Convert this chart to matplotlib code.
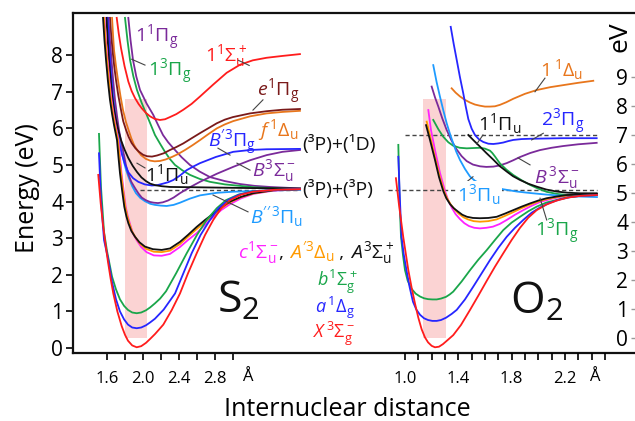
import matplotlib.pyplot as plt
from matplotlib.patches import Rectangle
from matplotlib.offsetbox import TextArea, HPacker, AnnotationBbox

plt.rcParams['font.family'] = ['Open Sans', 'DejaVu Sans']
plt.rcParams['mathtext.fontset'] = 'custom'
plt.rcParams['mathtext.rm'] = 'Open Sans'
plt.rcParams['mathtext.it'] = 'Open Sans:italic'
plt.rcParams['mathtext.bf'] = 'Open Sans:bold'

# colours
RED = '#ff1c1c'
BLUE = '#2626ff'
GREEN = '#1aa64a'
MAGENTA = '#ff22ff'
ORANGE = '#ff9a00'
DORANGE = '#e8761c'
PURPLE = '#7a2a9a'
DARKRED = '#7a1a1a'
LBLUE = '#1e9bff'
BLACK = '#111111'

# ---------------- S2 curves: r (Angstrom), E (eV) ----------------
s2_X_r = [1.503, 1.53, 1.556, 1.585, 1.611, 1.64, 1.670, 1.715, 1.763, 1.80, 1.833, 1.88, 1.93, 1.98, 2.033, 2.08, 2.133,
          2.18, 2.226, 2.32, 2.411, 2.50, 2.597, 2.69, 2.781, 2.87, 2.967, 3.09, 3.222, 3.45, 3.744]
s2_X_E = [4.73, 3.95, 3.36, 2.80, 2.35, 1.90, 1.49, 1.00, 0.60, 0.36, 0.20, 0.07, 0.02, 0.05, 0.14, 0.25, 0.38,
          0.51, 0.64, 1.04, 1.49, 2.04, 2.59, 3.09, 3.50, 3.82, 4.04, 4.19, 4.27, 4.32, 4.34]
s2_a_r = [1.511, 1.533, 1.567, 1.611, 1.656, 1.70, 1.744, 1.79, 1.833, 1.88, 1.93, 1.98, 2.033, 2.08, 2.133, 2.23,
          2.356, 2.45, 2.541, 2.64, 2.744, 2.84, 2.944, 3.07, 3.211, 3.45, 3.744]
s2_a_E = [5.32, 4.04, 2.95, 2.45, 1.80, 1.33, 1.00, 0.78, 0.64, 0.56, 0.54, 0.56, 0.62, 0.70, 0.80, 1.05,
          1.49, 2.05, 2.59, 3.09, 3.50, 3.82, 4.04, 4.19, 4.27, 4.32, 4.34]
s2_b_r = [1.511, 1.533, 1.567, 1.600, 1.656, 1.70, 1.744, 1.79, 1.833, 1.88, 1.93, 1.98, 2.033, 2.08, 2.133, 2.19,
          2.256, 2.37, 2.486, 2.60, 2.708, 2.82, 2.922, 3.06, 3.200, 3.45, 3.744]
s2_b_E = [5.85, 4.40, 3.17, 2.65, 1.95, 1.60, 1.33, 1.15, 1.04, 0.97, 0.95, 0.97, 1.03, 1.11, 1.22, 1.35,
          1.55, 2.05, 2.59, 3.09, 3.50, 3.82, 4.04, 4.19, 4.27, 4.32, 4.34]
s2_A_r = [1.556, 1.572, 1.589, 1.61, 1.633, 1.656, 1.678, 1.711, 1.728, 1.744, 1.768, 1.792, 1.815, 1.837, 1.87, 1.911,
          1.96, 2.022, 2.11, 2.208, 2.30, 2.411, 2.50, 2.597, 2.69, 2.781, 2.87, 2.967, 3.09, 3.226, 3.45, 3.744]
s2_A_E = [9.02, 8.40, 7.87, 7.30, 6.78, 6.40, 6.09, 5.68, 5.20, 4.78, 4.30, 3.86, 3.60, 3.41, 3.20, 3.04,
          2.89, 2.77, 2.70, 2.68, 2.72, 2.90, 3.09, 3.31, 3.50, 3.67, 3.85, 4.00, 4.13, 4.23, 4.31, 4.34]
s2_Ap_r = [1.567, 1.583, 1.600, 1.621, 1.644, 1.667, 1.689, 1.722, 1.739, 1.756, 1.78, 1.803, 1.826, 1.848, 1.88, 1.922,
           1.97, 2.033, 2.12, 2.208, 2.30, 2.411, 2.50, 2.597, 2.69, 2.781, 2.87, 2.967, 3.09, 3.226, 3.45, 3.744]
s2_Ap_E = [9.02, 8.40, 7.87, 7.30, 6.78, 6.40, 6.09, 5.68, 5.20, 4.78, 4.30, 3.86, 3.60, 3.41, 3.18, 3.00,
           2.84, 2.71, 2.63, 2.62, 2.66, 2.84, 3.04, 3.25, 3.45, 3.63, 3.82, 3.98, 4.12, 4.22, 4.31, 4.34]
s2_c_r = [1.572, 1.588, 1.606, 1.627, 1.650, 1.672, 1.694, 1.728, 1.745, 1.761, 1.785, 1.808, 1.831, 1.853, 1.885, 1.928,
          1.98, 2.039, 2.12, 2.208, 2.30, 2.411, 2.50, 2.597, 2.69, 2.781, 2.87, 2.967, 3.09, 3.226, 3.45, 3.744]
s2_c_E = [9.02, 8.40, 7.87, 7.30, 6.78, 6.40, 6.09, 5.68, 5.20, 4.78, 4.30, 3.86, 3.60, 3.41, 3.15, 2.95,
          2.76, 2.62, 2.53, 2.52, 2.57, 2.76, 2.95, 3.14, 3.37, 3.58, 3.77, 3.93, 4.09, 4.21, 4.30, 4.34]
s2_1Pu_r = [1.594, 1.608, 1.622, 1.64, 1.656, 1.678, 1.700, 1.728, 1.756, 1.795, 1.837, 1.885, 1.933, 1.983, 2.033,
            2.08, 2.133, 2.21, 2.300, 2.633, 3.189, 3.744]
s2_1Pu_E = [9.02, 8.40, 7.87, 7.35, 6.91, 6.53, 6.23, 5.93, 5.68, 5.42, 5.19, 4.98, 4.81, 4.66, 4.56,
            4.49, 4.45, 4.42, 4.40, 4.39, 4.37, 4.36]
s2_Bp_r = [1.606, 1.62, 1.633, 1.65, 1.667, 1.686, 1.706, 1.733, 1.763, 1.80, 1.837, 1.89, 1.948, 2.02, 2.097, 2.16,
           2.222, 2.28, 2.337, 2.41, 2.486, 2.56, 2.633, 2.81, 3.003, 3.19, 3.374, 3.744]
s2_Bp_E = [9.02, 8.40, 7.87, 7.30, 6.78, 6.35, 5.96, 5.62, 5.32, 5.02, 4.80, 4.64, 4.54, 4.47, 4.44, 4.45,
           4.49, 4.53, 4.59, 4.71, 4.86, 4.96, 5.05, 5.22, 5.36, 5.41, 5.43, 5.44]
s2_B_r = [1.617, 1.633, 1.650, 1.669, 1.689, 1.711, 1.733, 1.76, 1.789, 1.81, 1.837, 1.87, 1.911, 1.95, 1.986, 2.03,
          2.078, 2.12, 2.167, 2.22, 2.278, 2.34, 2.411, 2.52, 2.633, 2.82, 3.003, 3.19, 3.374, 3.55, 3.744]
s2_B_E = [9.02, 8.40, 7.87, 7.30, 6.78, 6.35, 5.96, 5.60, 5.27, 5.00, 4.75, 4.54, 4.37, 4.22, 4.11, 4.04,
          3.99, 3.97, 3.96, 3.98, 4.03, 4.11, 4.23, 4.39, 4.54, 4.76, 4.95, 5.13, 5.27, 5.36, 5.41]
s2_Bpp_r = [1.600, 1.62, 1.639, 1.658, 1.678, 1.70, 1.722, 1.75, 1.778, 1.81, 1.844, 1.88, 1.922, 1.97, 2.022, 2.08,
            2.133, 2.20, 2.263, 2.34, 2.411, 2.52, 2.633, 2.82, 3.003, 3.37, 3.744]
s2_Bpp_E = [9.02, 8.40, 7.87, 7.30, 6.78, 6.35, 5.96, 5.55, 5.19, 4.88, 4.64, 4.42, 4.23, 4.10, 4.01, 3.94,
            3.91, 3.89, 3.88, 3.91, 3.97, 4.08, 4.17, 4.24, 4.27, 4.30, 4.32]
s2_e_r = [1.633, 1.645, 1.661, 1.68, 1.700, 1.725, 1.756, 1.78, 1.811, 1.84, 1.874, 1.915, 1.956, 2.0, 2.044, 2.10,
          2.156, 2.23, 2.300, 2.37, 2.448, 2.54, 2.633, 2.73, 2.82, 2.91, 3.0, 3.19, 3.374, 3.55, 3.744]
s2_e_E = [9.02, 8.60, 8.14, 7.70, 7.32, 6.91, 6.50, 6.20, 5.96, 5.77, 5.60, 5.46, 5.36, 5.28, 5.24, 5.23,
          5.26, 5.32, 5.41, 5.49, 5.59, 5.73, 5.87, 6.01, 6.14, 6.24, 6.31, 6.41, 6.47, 6.51, 6.53]
s2_f_r = [1.656, 1.667, 1.678, 1.70, 1.722, 1.75, 1.778, 1.81, 1.839, 1.87, 1.900, 1.94, 1.978, 2.03, 2.078, 2.13,
          2.189, 2.25, 2.322, 2.39, 2.467, 2.55, 2.633, 2.73, 2.82, 2.91, 3.003, 3.19, 3.374, 3.55, 3.744]
s2_f_E = [9.02, 8.55, 8.14, 7.70, 7.32, 6.88, 6.50, 6.18, 5.96, 5.73, 5.55, 5.39, 5.27, 5.17, 5.12, 5.10,
          5.11, 5.15, 5.22, 5.30, 5.41, 5.54, 5.68, 5.85, 6.00, 6.11, 6.20, 6.33, 6.41, 6.45, 6.48]
s2_1Su_r = [1.708, 1.73, 1.756, 1.795, 1.837, 1.874, 1.911, 1.95, 1.986, 2.03, 2.078, 2.13, 2.189, 2.245, 2.300, 2.37,
            2.448, 2.54, 2.633, 2.70, 2.781, 2.93, 3.078, 3.22, 3.374, 3.55, 3.744]
s2_1Su_E = [9.02, 8.60, 8.19, 7.70, 7.28, 7.02, 6.83, 6.67, 6.55, 6.43, 6.33, 6.26, 6.23, 6.25, 6.31, 6.39,
            6.51, 6.67, 6.87, 7.02, 7.20, 7.52, 7.74, 7.86, 7.93, 7.98, 8.03]
s2_3Pg_r = [1.800, 1.828, 1.856, 1.893, 1.933, 1.985, 2.041, 2.09, 2.133, 2.19, 2.244, 2.30, 2.356, 2.44, 2.522, 2.63,
            2.744, 2.91, 3.078, 3.24, 3.411, 3.744]
s2_3Pg_E = [9.02, 8.40, 7.87, 7.42, 7.05, 6.70, 6.37, 6.08, 5.82, 5.58, 5.36, 5.16, 5.00, 4.85, 4.73, 4.62,
            4.54, 4.47, 4.43, 4.39, 4.37, 4.34]
s2_1Pg_r = [1.837, 1.862, 1.889, 1.925, 1.967, 2.04, 2.114, 2.17, 2.222, 2.28, 2.337, 2.43, 2.522, 2.63, 2.744, 2.91,
            3.078, 3.24, 3.411, 3.744]
s2_1Pg_E = [9.02, 8.40, 7.87, 7.42, 7.05, 6.68, 6.37, 6.08, 5.82, 5.62, 5.46, 5.21, 5.00, 4.82, 4.67, 4.56,
            4.48, 4.43, 4.40, 4.36]

# ---------------- O2 curves: r (Angstrom), E (eV, right scale) ----------------
o2_X_r = [0.932, 0.955, 0.987, 1.025, 1.05, 1.075, 1.10, 1.125, 1.15, 1.173, 1.20, 1.225, 1.255, 1.285, 1.32, 1.362,
          1.42, 1.488, 1.55, 1.613, 1.675, 1.737, 1.80, 1.863, 1.925, 1.988, 2.06, 2.138, 2.22, 2.313, 2.44]
o2_X_E = [5.51, 4.59, 3.48, 2.34, 1.73, 1.19, 0.70, 0.30, 0.02, -0.15, -0.27, -0.32, -0.30, -0.21, -0.07, 0.10,
          0.45, 0.97, 1.46, 1.97, 2.46, 2.92, 3.38, 3.80, 4.15, 4.41, 4.60, 4.74, 4.84, 4.90, 4.93]
o2_a_r = [0.950, 0.962, 0.974, 0.99, 1.011, 1.035, 1.060, 1.085, 1.113, 1.143, 1.173, 1.205, 1.238, 1.27, 1.308, 1.35,
          1.388, 1.45, 1.512, 1.575, 1.638, 1.70, 1.763, 1.825, 1.887, 1.95, 2.013, 2.09, 2.163, 2.24, 2.313, 2.44]
o2_a_E = [6.25, 4.76, 3.49, 2.90, 2.34, 1.75, 1.25, 0.98, 0.80, 0.68, 0.62, 0.59, 0.59, 0.62, 0.70, 0.83,
          0.97, 1.33, 1.77, 2.23, 2.69, 3.11, 3.49, 3.80, 4.07, 4.32, 4.50, 4.67, 4.78, 4.86, 4.90, 4.93]
o2_b_r = [0.950, 0.959, 0.970, 0.985, 1.000, 1.02, 1.045, 1.08, 1.113, 1.143, 1.173, 1.205, 1.238, 1.27, 1.308, 1.335,
          1.362, 1.425, 1.488, 1.55, 1.613, 1.675, 1.737, 1.80, 1.863, 1.925, 1.988, 2.06, 2.138, 2.22, 2.313, 2.44]
o2_b_E = [6.66, 4.76, 3.49, 2.85, 2.34, 1.98, 1.72, 1.53, 1.43, 1.37, 1.34, 1.33, 1.33, 1.36, 1.42, 1.50,
          1.60, 1.95, 2.34, 2.70, 3.03, 3.38, 3.72, 3.98, 4.18, 4.37, 4.53, 4.67, 4.76, 4.85, 4.90, 4.93]
o2_c_r = [1.175, 1.195, 1.225, 1.2625, 1.30, 1.325, 1.3525, 1.38, 1.4125, 1.445, 1.48, 1.52, 1.5625, 1.61, 1.66, 1.71,
          1.763, 1.825, 1.8875, 1.95, 2.0125, 2.09, 2.1625, 2.30, 2.44]
o2_c_E = [7.86, 7.17, 6.48, 5.69, 5.07, 4.74, 4.48, 4.27, 4.10, 3.96, 3.86, 3.80, 3.78, 3.80, 3.84, 3.93,
          4.07, 4.25, 4.41, 4.56, 4.69, 4.79, 4.86, 4.91, 4.93]
o2_Ap_r = [1.163, 1.1875, 1.225, 1.259, 1.2925, 1.318, 1.345, 1.375, 1.405, 1.44, 1.4725, 1.515, 1.5625, 1.625, 1.688,
           1.75, 1.8125, 1.875, 1.9375, 2.0, 2.063, 2.138, 2.213, 2.44]
o2_Ap_E = [7.46, 6.97, 6.24, 5.59, 5.07, 4.80, 4.59, 4.42, 4.28, 4.16, 4.09, 4.03, 4.01, 4.03, 4.09,
           4.21, 4.34, 4.48, 4.60, 4.71, 4.79, 4.86, 4.91, 4.95]
o2_A_r = [1.158, 1.1875, 1.225, 1.255, 1.287, 1.31, 1.3375, 1.365, 1.3975, 1.43, 1.465, 1.51, 1.5625, 1.625, 1.688,
          1.75, 1.8125, 1.875, 1.9375, 2.0, 2.063, 2.138, 2.213, 2.44]
o2_A_E = [7.34, 6.83, 6.14, 5.55, 5.07, 4.82, 4.62, 4.48, 4.36, 4.25, 4.18, 4.14, 4.13, 4.14, 4.18,
          4.29, 4.41, 4.53, 4.64, 4.74, 4.82, 4.88, 4.93, 4.97]
o2_1Du_r = [1.350, 1.38, 1.4125, 1.45, 1.4875, 1.525, 1.5625, 1.60, 1.6375, 1.675, 1.7125, 1.76, 1.8125, 1.90, 1.988,
            2.09, 2.1875, 2.30, 2.4125]
o2_1Du_E = [8.61, 8.46, 8.33, 8.21, 8.12, 8.05, 8.01, 7.98, 7.98, 7.99, 8.04, 8.13, 8.25, 8.42, 8.55,
            8.65, 8.72, 8.80, 8.87]
o2_23Pg_r = [1.343, 1.365, 1.388, 1.412, 1.437, 1.455, 1.475, 1.50, 1.525, 1.555, 1.587, 1.625, 1.6625, 1.70, 1.737,
             1.775, 1.8125, 1.875, 1.9375, 2.06, 2.1875, 2.438]
o2_23Pg_E = [10.73, 10.15, 9.59, 9.00, 8.44, 8.00, 7.55, 7.22, 7.00, 6.85, 6.76, 6.70, 6.69, 6.71, 6.74,
             6.79, 6.83, 6.86, 6.87, 6.88, 6.89, 6.89]
o2_B_r = [1.200, 1.225, 1.250, 1.28, 1.313, 1.35, 1.388, 1.425, 1.463, 1.51, 1.5625, 1.61, 1.6625, 1.71, 1.763,
          1.8125, 1.8625, 1.94, 2.0125, 2.10, 2.1875, 2.30, 2.438]
o2_B_E = [8.67, 8.30, 7.98, 7.57, 7.17, 6.80, 6.50, 6.27, 6.10, 5.98, 5.92, 5.90, 5.91, 5.95, 6.03,
          6.13, 6.24, 6.38, 6.48, 6.56, 6.62, 6.68, 6.73]
o2_3Pg_r = [1.212, 1.25, 1.287, 1.325, 1.362, 1.41, 1.463, 1.51, 1.5625, 1.60, 1.6375, 1.655, 1.675, 1.695, 1.7125,
            1.76, 1.8125, 1.875, 1.9375, 2.0, 2.063, 2.138, 2.213, 2.438]
o2_3Pg_E = [7.52, 7.20, 6.94, 6.75, 6.63, 6.56, 6.54, 6.55, 6.56, 6.53, 6.46, 6.38, 6.26, 6.13, 6.02,
            5.81, 5.62, 5.44, 5.28, 5.15, 5.04, 4.97, 4.93, 4.93]
o2_3Pu_r = [1.212, 1.237, 1.2625, 1.288, 1.313, 1.338, 1.362, 1.385, 1.4125, 1.45, 1.4875, 1.525, 1.5625, 1.60,
            1.6375, 1.735, 1.84, 1.9375, 2.05, 2.1625, 2.30, 2.44]
o2_3Pu_E = [9.41, 8.83, 8.32, 7.84, 7.40, 7.03, 6.71, 6.42, 6.14, 5.83, 5.57, 5.42, 5.33, 5.28,
            5.24, 5.13, 5.05, 5.00, 4.95, 4.91, 4.88, 4.86]
o2_1Pu_r = [1.475, 1.52, 1.5625, 1.61, 1.6625, 1.71, 1.763, 1.81, 1.8625, 1.925, 1.988, 2.06, 2.138, 2.22, 2.3125, 2.438]
o2_1Pu_E = [7.00, 6.79, 6.60, 6.38, 6.15, 5.93, 5.74, 5.58, 5.45, 5.32, 5.22, 5.12, 5.05, 5.01, 4.99, 4.99]

# shaded Franck-Condon bands: (r0, r1, E0, E1)
s2_band = (1.80, 2.04, 0.27, 6.80)
o2_band = (1.137, 1.305, 0.0, 8.23)

# dissociation limits
s2_limit_3P3P = 4.32
o2_limit_3P3P = 5.10
o2_limit_3P1D = 7.00

# axis ticks
s2_xticks = [1.6, 1.8, 2.0, 2.2, 2.4, 2.6, 2.8, 3.0]
s2_xlabels = ['1.6', '', '2.0', '', '2.4', '', '2.8', '']
s2_yticks = [0, 1, 2, 3, 4, 5, 6, 7, 8]
o2_xticks = [1.0, 1.1, 1.2, 1.3, 1.4, 1.5, 1.6, 1.7, 1.8, 1.9, 2.0, 2.1, 2.2, 2.3, 2.4, 2.5]
o2_xlabels = ['1.0', '', '', '', '1.4', '', '', '', '1.8', '', '', '', '2.2', '', '', '']
o2_yticks = [0, 1, 2, 3, 4, 5, 6, 7, 8, 9]

W, H = 635, 421
fig = plt.figure(figsize=(W / 100, H / 100), dpi=100)
pos = [73 / W, 1 - 353 / H, 562 / W, 340 / H]

ax = fig.add_axes(pos)
ax.set_xlim(1.2222, 7.467)
ax.set_ylim(-0.1366, 9.153)
ax2 = fig.add_axes(pos)
ax2.patch.set_alpha(0)
ax2.set_xlim(-1.4906, 2.7255)
ax2.set_ylim(-0.517, 11.207)

for s in ['left', 'top', 'bottom']:
    ax.spines[s].set_linewidth(1.6)
    ax.spines[s].set_color('#111111')
ax.spines['right'].set_visible(False)
for s in ax2.spines.values():
    s.set_visible(False)

ax.set_xticks(s2_xticks, s2_xlabels)
ax.set_yticks(s2_yticks)
ax.tick_params(axis='x', direction='out', length=5, width=1.2, pad=8, labelsize=12)
ax.tick_params(axis='y', direction='out', length=5, width=1.2, pad=2, labelsize=15)

ax2.set_xticks(o2_xticks, o2_xlabels)
ax2.set_yticks(o2_yticks)
ax2.yaxis.tick_right()
ax2.tick_params(axis='x', direction='out', length=5, width=1.2, pad=8, labelsize=12)
ax2.tick_params(axis='y', direction='in', length=3, width=1.0, pad=-5, labelsize=15, color='#999999')
for lab in ax2.get_yticklabels():
    lab.set_horizontalalignment('right')

# bands
r0, r1, e0, e1 = s2_band
ax.add_patch(Rectangle((r0, e0), r1 - r0, e1 - e0, facecolor='#fbd3d3', edgecolor='none', zorder=0))
r0, r1, e0, e1 = o2_band
ax2.add_patch(Rectangle((r0, e0), r1 - r0, e1 - e0, facecolor='#fbd3d3', edgecolor='none', zorder=0))

s2_curves = [
    (s2_1Pg_r, s2_1Pg_E, PURPLE), (s2_3Pg_r, s2_3Pg_E, GREEN), (s2_1Su_r, s2_1Su_E, RED),
    (s2_f_r, s2_f_E, DORANGE), (s2_e_r, s2_e_E, DARKRED), (s2_Bpp_r, s2_Bpp_E, LBLUE),
    (s2_B_r, s2_B_E, PURPLE), (s2_Bp_r, s2_Bp_E, BLUE), (s2_1Pu_r, s2_1Pu_E, BLACK),
    (s2_c_r, s2_c_E, MAGENTA), (s2_Ap_r, s2_Ap_E, ORANGE), (s2_A_r, s2_A_E, BLACK),
    (s2_b_r, s2_b_E, GREEN), (s2_a_r, s2_a_E, BLUE), (s2_X_r, s2_X_E, RED),
]
for r, e, c in s2_curves:
    ax.plot(r, e, color=c, lw=1.3, zorder=2, solid_joinstyle='round')

o2_curves = [
    (o2_1Du_r, o2_1Du_E, DORANGE), (o2_23Pg_r, o2_23Pg_E, BLUE), (o2_B_r, o2_B_E, PURPLE),
    (o2_3Pg_r, o2_3Pg_E, GREEN), (o2_3Pu_r, o2_3Pu_E, LBLUE), (o2_1Pu_r, o2_1Pu_E, BLACK),
    (o2_c_r, o2_c_E, MAGENTA), (o2_Ap_r, o2_Ap_E, ORANGE), (o2_A_r, o2_A_E, BLACK),
    (o2_b_r, o2_b_E, GREEN), (o2_a_r, o2_a_E, BLUE), (o2_X_r, o2_X_E, RED),
]
for r, e, c in o2_curves:
    ax2.plot(r, e, color=c, lw=1.3, zorder=2, solid_joinstyle='round')

# dashed dissociation limits
dash = dict(color='#444444', lw=1.0, ls=(0, (3, 2)), zorder=1)
ax.plot([1.967, 3.744], [s2_limit_3P3P] * 2, **dash)
ax2.plot([0.872, 2.44], [o2_limit_3P3P] * 2, **dash)
ax2.plot([1.0, 2.44], [o2_limit_3P1D] * 2, **dash)

lead = dict(color='#444444', lw=0.8, zorder=3)
fs = 14

# S2 labels
ax.text(2.156, 8.47, r'$1^1\Pi_\mathrm{g}$', color=PURPLE, fontsize=fs, ha='center', va='center')
ax.text(2.30, 7.54, r'$1^3\Pi_\mathrm{g}$', color=GREEN, fontsize=fs, ha='center', va='center')
ax.plot([1.874, 2.022], [7.89, 7.73], **lead)
ax.text(2.922, 7.98, r'$1^1\Sigma_\mathrm{u}^+$', color=RED, fontsize=fs, ha='center', va='center')
ax.plot([3.06, 3.18], [7.86, 7.72], **lead)
ax.text(3.50, 6.99, r'$e^1\Pi_\mathrm{g}$', color=DARKRED, fontsize=fs, ha='center', va='center')
ax.plot([3.222, 3.333], [6.50, 6.78], **lead)
ax.text(3.50, 5.96, r'$f\,{}^1\Delta_\mathrm{u}$', color=DORANGE, fontsize=fs, ha='center', va='center')
ax.text(2.989, 5.60, r'$B^{\prime 3}\Pi_\mathrm{g}$', color=BLUE, fontsize=fs, ha='center', va='center')
ax.plot([2.833, 2.967], [5.46, 5.27], **lead)
ax.text(3.456, 4.84, r'$B^3\Sigma_\mathrm{u}^-$', color=PURPLE, fontsize=fs, ha='center', va='center')
ax.plot([3.044, 3.189], [5.05, 4.86], **lead)
ax.text(2.267, 4.73, r'$1^1\Pi_\mathrm{u}$', color=BLACK, fontsize=fs, ha='center', va='center')
ax.plot([1.933, 2.022], [5.05, 4.92], **lead)
ax.text(3.489, 3.58, r'$B^{\prime\prime\,3}\Pi_\mathrm{u}$', color=LBLUE, fontsize=fs, ha='center', va='center')
ax.plot([2.778, 3.167], [4.18, 3.72], **lead)

parts = [(r'$c^1\Sigma_\mathrm{u}^-$', MAGENTA), (', ', BLACK), (r'$A^{\prime 3}\Delta_\mathrm{u}$', ORANGE),
         (' , ', BLACK), (r'$A^3\Sigma_\mathrm{u}^+$', BLACK)]
row = HPacker(children=[TextArea(t, textprops=dict(color=c, fontsize=fs)) for t, c in parts],
              align='baseline', pad=0, sep=0)
ax.add_artist(AnnotationBbox(row, (3.056, 2.62), xycoords='data', box_alignment=(0, 0.5),
                             frameon=False, pad=0))

ax.text(3.93, 1.80, r'$b^1\Sigma_\mathrm{g}^+$', color=GREEN, fontsize=13, ha='left', va='center')
ax.text(3.91, 1.10, r'$a\,{}^1\Delta_\mathrm{g}$', color=BLUE, fontsize=13, ha='left', va='center')
ax.text(3.89, 0.40, r'$X\,{}^3\Sigma_\mathrm{g}^-$', color=RED, fontsize=13, ha='left', va='center')
ax.text(3.056, 1.26, r'$\mathrm{S_2}$', fontsize=32, ha='center', va='center', color=BLACK)

ax.text(3.767, 5.55, '(³P)+(¹D)', fontsize=14, ha='left', va='center', color=BLACK)
ax.text(3.767, 4.32, '(³P)+(³P)', fontsize=14, ha='left', va='center', color=BLACK)

# O2 labels
ax2.text(1.99, 1.21, r'$\mathrm{O_2}$', fontsize=32, ha='center', va='center', color=BLACK)
ax2.text(2.178, 9.24, r'$1\,{}^1\Delta_\mathrm{u}$', color=DORANGE, fontsize=fs, ha='center', va='center')
ax2.plot([1.975, 2.05], [8.49, 8.96], **lead)
ax2.text(1.713, 7.41, r'$1^1\Pi_\mathrm{u}$', color=BLACK, fontsize=fs, ha='center', va='center')
ax2.plot([1.585, 1.538], [7.0, 6.69], **lead)
ax2.text(2.185, 7.45, r'$2^3\Pi_\mathrm{g}$', color=BLUE, fontsize=fs, ha='center', va='center')
ax2.plot([1.95, 2.0375], [6.83, 7.06], **lead)
ax2.text(2.14, 5.52, r'$B\,{}^3\Sigma_\mathrm{u}^-$', color=PURPLE, fontsize=fs, ha='center', va='center')
ax2.plot([1.848, 1.938], [6.21, 5.97], **lead)
ax2.text(1.555, 4.93, r'$1^3\Pi_\mathrm{u}$', color=LBLUE, fontsize=fs, ha='center', va='center', zorder=4,
         bbox=dict(facecolor='white', edgecolor='none', pad=1))
ax2.plot([1.435, 1.51], [5.28, 5.56], **lead)
ax2.text(2.14, 3.66, r'$1^3\Pi_\mathrm{g}$', color=GREEN, fontsize=fs, ha='center', va='center')
ax2.plot([2.063, 2.013], [4.07, 4.82], **lead)

# unit labels
ax.text(3.156, -0.0706, 'Å', transform=ax.get_xaxis_transform(), fontsize=12, ha='center', va='center')
ax2.text(2.418, -0.0706, 'Å', transform=ax2.get_xaxis_transform(), fontsize=12, ha='center', va='center')
fig.text(620 / W, 1 - 37 / H, 'eV', rotation=90, fontsize=19, ha='center', va='center')
fig.text(28 / W, 1 - 188 / H, 'Energy (eV)', rotation=90, fontsize=18, ha='center', va='center')
fig.text(347 / W, 1 - 410 / H, 'Internuclear distance', fontsize=18, ha='center', va='center')

fig.savefig('out.png', dpi=100)
